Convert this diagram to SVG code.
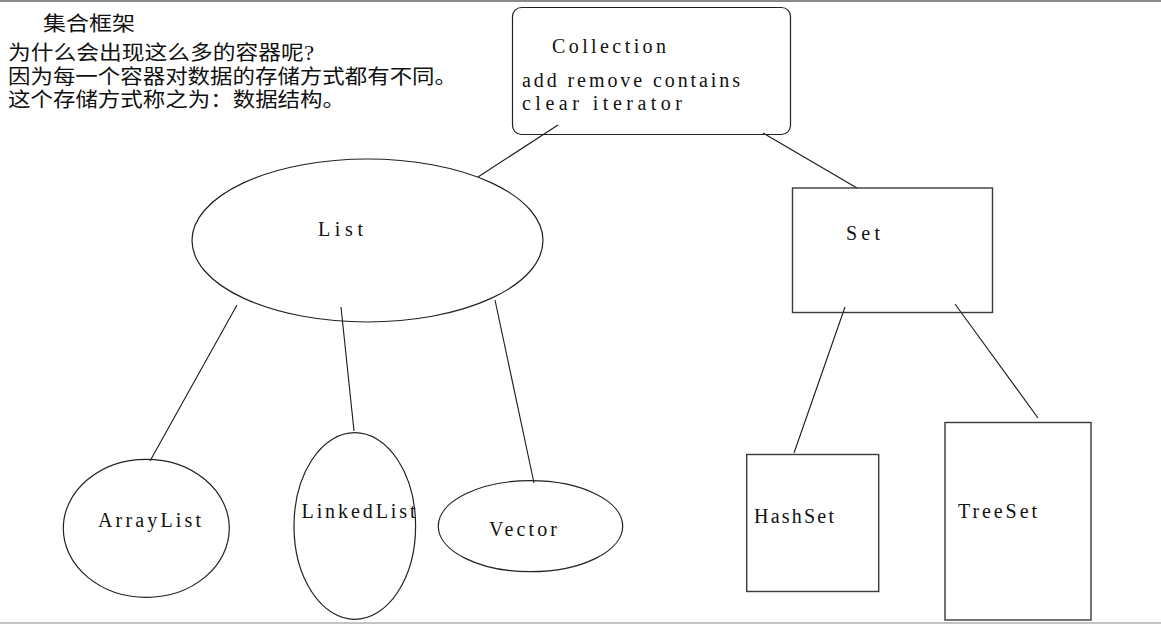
<svg xmlns="http://www.w3.org/2000/svg" width="1161" height="624" viewBox="0 0 1161 624">
<style>
.bg{fill:#ffffff}
.edge{stroke:#1a1a1a;stroke-width:1.1;fill:none}
.shape{fill:none;stroke:#222;stroke-width:1.2}
.box{fill:none;stroke:#3a3a3a;stroke-width:1.4}
.lbl{font-family:"Liberation Serif","DejaVu Serif",serif;font-size:20px;fill:#111}
.cn{font-family:"Liberation Serif","Noto Sans CJK SC",sans-serif;font-size:20px;fill:#111}
</style>
<rect class="bg" x="0" y="0" width="1161" height="624"/>
<rect x="0" y="0" width="1161" height="2" fill="#8a8a8a"/>
<rect x="0" y="622" width="1161" height="2" fill="#c4c4c4"/>

<g id="intro">
<text class="cn" x="43" y="31" textLength="92" lengthAdjust="spacingAndGlyphs">集合框架</text>
<text class="cn" x="8" y="60" textLength="306" lengthAdjust="spacingAndGlyphs">为什么会出现这么多的容器呢?</text>
<text class="cn" x="8" y="84" textLength="449" lengthAdjust="spacingAndGlyphs">因为每一个容器对数据的存储方式都有不同。</text>
<text class="cn" x="8" y="107" textLength="337" lengthAdjust="spacingAndGlyphs">这个存储方式称之为：数据结构。</text>
</g>

<g id="connectors">
<line class="edge" x1="558" y1="125" x2="478" y2="177"/>
<line class="edge" x1="763" y1="133" x2="857" y2="188"/>
<line class="edge" x1="237" y1="305" x2="150" y2="461"/>
<line class="edge" x1="341" y1="307" x2="354" y2="431"/>
<line class="edge" x1="495" y1="300" x2="534" y2="483"/>
<line class="edge" x1="845" y1="307" x2="794" y2="453"/>
<line class="edge" x1="955" y1="304" x2="1038" y2="418"/>
</g>

<g id="collection">
<rect class="shape" x="512.5" y="7.5" width="278" height="127" rx="9"/>
<text class="lbl" x="552" y="53" textLength="114" lengthAdjust="spacing">Collection</text>
<text class="lbl" x="522" y="87" textLength="218" lengthAdjust="spacing">add remove contains</text>
<text class="lbl" x="522" y="110" textLength="160" lengthAdjust="spacing">clear iterator</text>
</g>

<g id="list">
<ellipse class="shape" cx="367.5" cy="240.5" rx="175.5" ry="81.5"/>
<text class="lbl" x="318" y="236" textLength="45" lengthAdjust="spacing">List</text>
</g>

<g id="set">
<rect class="box" x="792.5" y="188" width="200" height="124.5"/>
<text class="lbl" x="846" y="240" textLength="34" lengthAdjust="spacing">Set</text>
</g>

<g id="arraylist">
<ellipse class="shape" cx="146.3" cy="528.3" rx="83" ry="69"/>
<text class="lbl" x="98" y="527" textLength="103" lengthAdjust="spacing">ArrayList</text>
</g>

<g id="linkedlist">
<ellipse class="shape" cx="354.8" cy="526" rx="60.8" ry="93.3"/>
<text class="lbl" x="301.5" y="518" textLength="114" lengthAdjust="spacing">LinkedList</text>
</g>

<g id="vector">
<ellipse class="shape" cx="530.5" cy="526.2" rx="92.2" ry="45.5"/>
<text class="lbl" x="489" y="535.5" textLength="68" lengthAdjust="spacing">Vector</text>
</g>

<g id="hashset">
<rect class="box" x="746.7" y="454.5" width="132" height="137"/>
<text class="lbl" x="754" y="523" textLength="80" lengthAdjust="spacing">HashSet</text>
</g>

<g id="treeset">
<rect class="box" x="945" y="422.5" width="146" height="197.5"/>
<text class="lbl" x="958" y="518" textLength="79" lengthAdjust="spacing">TreeSet</text>
</g>
</svg>
